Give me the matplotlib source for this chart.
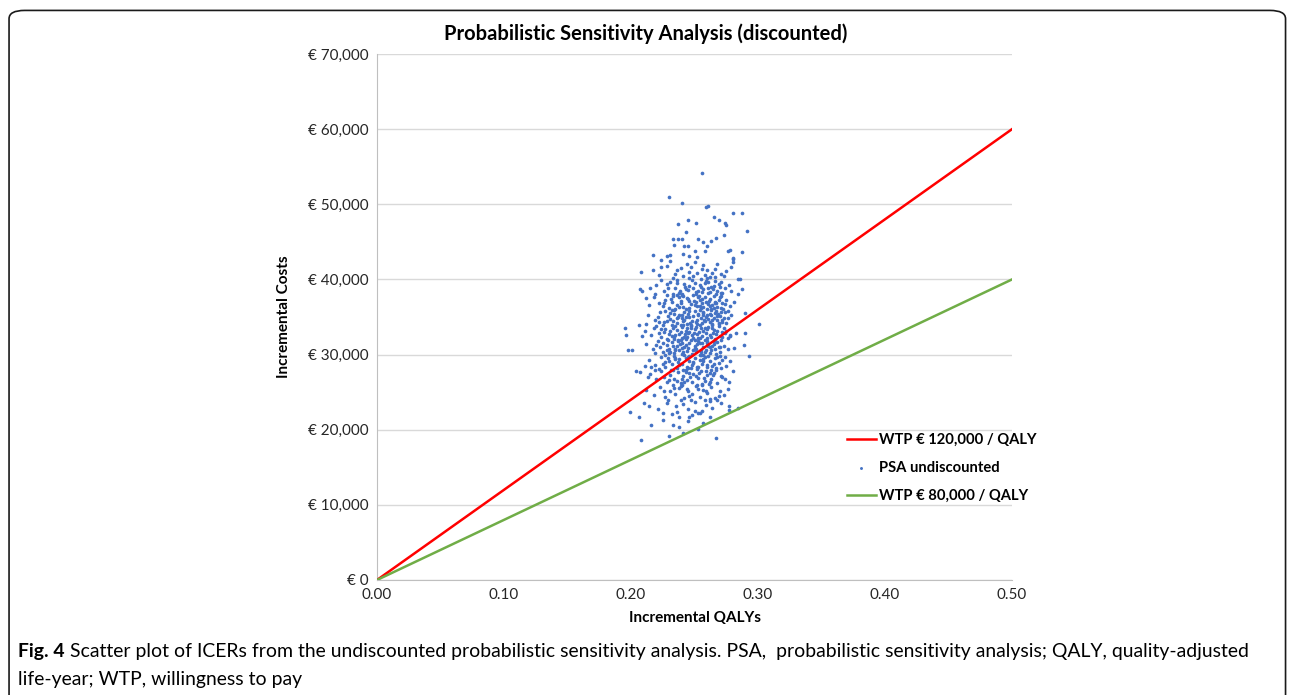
import matplotlib.pyplot as plt
from matplotlib.patches import FancyBboxPatch
from matplotlib.ticker import FuncFormatter

# WTP threshold lines (QALY, cost)
wtp_qaly = [0.0, 0.5]
wtp120_cost = [0, 60000]
wtp80_cost = [0, 40000]

# PSA points (QALY, cost)
psa = [
    # outliers
    (0.256, 54200), (0.230, 51000), (0.240, 50200), (0.259, 49600), (0.261, 49800),
    (0.280, 48900), (0.287, 48800), (0.291, 46400), (0.265, 48300), (0.269, 47900),
    (0.274, 47500), (0.275, 47200), (0.237, 47400), (0.245, 47900), (0.251, 47500),
    (0.243, 46300), (0.233, 45400), (0.237, 45400), (0.240, 45400), (0.234, 44600),
    (0.253, 45400), (0.257, 45000), (0.263, 45100), (0.267, 45500), (0.273, 45900),
    (0.242, 44500), (0.245, 44500), (0.250, 43800), (0.260, 44500), (0.258, 43800),
    (0.217, 43300), (0.228, 43100), (0.231, 43200), (0.241, 43400), (0.246, 43100),
    (0.252, 43000), (0.276, 43800), (0.278, 43900), (0.287, 43700), (0.224, 42600),
    (0.280, 42800), (0.280, 42300), (0.208, 41000), (0.224, 41600),
    (0.195, 33500), (0.196, 32600), (0.198, 30600), (0.201, 30600), (0.206, 33900),
    (0.212, 34100), (0.209, 32500), (0.204, 27800), (0.207, 27700), (0.211, 28500),
    (0.213, 27000), (0.207, 38700), (0.209, 38500), (0.212, 37500), (0.214, 36600),
    (0.219, 38100), (0.290, 35500), (0.301, 34100), (0.283, 32900), (0.290, 32900),
    (0.289, 31300), (0.293, 29800), (0.281, 30900), (0.278, 32500), (0.280, 27800),
    (0.284, 40100), (0.286, 40000), (0.287, 38700), (0.284, 38100), (0.280, 42700),
    (0.208, 18600), (0.267, 18900), (0.233, 20600), (0.216, 20600), (0.248, 22000),
    (0.246, 21700), (0.254, 22200), (0.262, 21700), (0.206, 21700), (0.199, 22400),
    (0.225, 22200), (0.277, 22600), (0.277, 23200), (0.284, 22900), (0.268, 24000),
    (0.210, 23600),
    # 40-42k
    (0.228, 41800), (0.236, 41200), (0.241, 40500), (0.247, 41600), (0.252, 40900),
    (0.257, 41900), (0.262, 40300), (0.266, 41400), (0.271, 40700), (0.275, 41100),
    (0.233, 40200), (0.244, 42000), (0.255, 40100), (0.260, 41300), (0.268, 42100),
    (0.222, 40600), (0.239, 41500), (0.250, 42300), (0.273, 40400), (0.258, 40600),
    (0.246, 40200), (0.231, 42400), (0.264, 40900), (0.279, 41600), (0.217, 41300),
    # 38-40k
    (0.220, 39200), (0.226, 38400), (0.231, 39700), (0.235, 38900), (0.238, 38200),
    (0.242, 39400), (0.245, 38600), (0.248, 39900), (0.251, 38100), (0.254, 39300),
    (0.257, 38700), (0.259, 39800), (0.262, 38300), (0.265, 39100), (0.268, 38500),
    (0.271, 39600), (0.274, 38900), (0.277, 39300), (0.224, 39900), (0.229, 38800),
    (0.240, 38000), (0.246, 39100), (0.253, 38500), (0.258, 39500), (0.263, 39000),
    (0.267, 38000), (0.272, 38200), (0.236, 39500), (0.249, 38800), (0.256, 38300),
    (0.261, 39600), (0.270, 39000), (0.215, 38900), (0.233, 38100), (0.279, 38400),
    # 36-38k
    (0.218, 37600), (0.222, 36800), (0.227, 37300), (0.230, 36200), (0.233, 37800),
    (0.236, 36600), (0.239, 37100), (0.241, 36300), (0.244, 37500), (0.247, 36700),
    (0.249, 37900), (0.252, 36400), (0.254, 37200), (0.256, 36900), (0.258, 37700),
    (0.260, 36100), (0.262, 37400), (0.264, 36600), (0.266, 37000), (0.268, 36300),
    (0.270, 37600), (0.272, 36800), (0.275, 37200), (0.278, 36500), (0.225, 36400),
    (0.232, 37000), (0.238, 37600), (0.243, 36100), (0.246, 37100), (0.250, 36600),
    (0.253, 37600), (0.257, 36300), (0.259, 37000), (0.261, 36700), (0.263, 36000),
    (0.265, 37800), (0.267, 36900), (0.269, 37300), (0.271, 36200), (0.274, 36700),
    (0.228, 37900), (0.235, 36000), (0.240, 37900), (0.255, 36200), (0.281, 37000),
    # 34-36k
    (0.213, 35200), (0.219, 34600), (0.223, 35700), (0.226, 34300), (0.229, 35100),
    (0.231, 34700), (0.234, 35900), (0.236, 34200), (0.238, 35300), (0.240, 34800),
    (0.242, 35600), (0.244, 34100), (0.246, 35000), (0.248, 34500), (0.250, 35800),
    (0.251, 34300), (0.253, 35400), (0.255, 34900), (0.257, 35700), (0.258, 34400),
    (0.260, 35200), (0.261, 34700), (0.263, 35900), (0.264, 34100), (0.266, 35500),
    (0.268, 34600), (0.270, 35100), (0.272, 34300), (0.274, 35700), (0.276, 34800),
    (0.279, 35300), (0.221, 35000), (0.227, 35800), (0.233, 34500), (0.237, 35000),
    (0.241, 34400), (0.245, 35400), (0.247, 34000), (0.249, 35100), (0.252, 34600),
    (0.254, 35900), (0.256, 34200), (0.259, 35000), (0.262, 34300), (0.265, 34800),
    (0.267, 35800), (0.269, 34200), (0.271, 35600), (0.273, 34900), (0.225, 34000),
    (0.231, 35500), (0.239, 34000), (0.243, 35000), (0.257, 35300), (0.263, 35300),
    # 32-34k
    (0.211, 33200), (0.216, 32600), (0.220, 33800), (0.224, 32300), (0.227, 33400),
    (0.230, 32800), (0.232, 33900), (0.234, 32100), (0.236, 33300), (0.238, 32700),
    (0.240, 33700), (0.242, 32400), (0.243, 33100), (0.245, 32900), (0.247, 33600),
    (0.249, 32200), (0.250, 33400), (0.252, 32800), (0.254, 33900), (0.256, 32500),
    (0.257, 33200), (0.259, 32900), (0.261, 33700), (0.263, 32300), (0.265, 33300),
    (0.267, 32700), (0.269, 33800), (0.272, 32400), (0.275, 33100), (0.278, 32600),
    (0.222, 32900), (0.228, 32100), (0.233, 33500), (0.237, 32000), (0.239, 33000),
    (0.241, 33900), (0.244, 32300), (0.246, 33000), (0.248, 32600), (0.251, 33700),
    (0.253, 32200), (0.255, 33500), (0.258, 32000), (0.260, 33400), (0.262, 32600),
    (0.264, 33900), (0.266, 32100), (0.268, 33100), (0.270, 32500), (0.273, 33600),
    (0.218, 33500), (0.226, 33000), (0.235, 32600), (0.250, 32000), (0.276, 32200),
    # 30-32k
    (0.212, 31400), (0.217, 30700), (0.221, 31800), (0.225, 30300), (0.228, 31300),
    (0.230, 30800), (0.232, 31700), (0.234, 30200), (0.236, 31100), (0.238, 30600),
    (0.239, 31900), (0.241, 30400), (0.243, 31300), (0.245, 30900), (0.246, 31600),
    (0.248, 30100), (0.250, 31200), (0.251, 30700), (0.253, 31800), (0.255, 30300),
    (0.257, 31000), (0.259, 30600), (0.260, 31500), (0.262, 30200), (0.264, 31100),
    (0.266, 30800), (0.268, 31700), (0.270, 30400), (0.273, 31200), (0.276, 30700),
    (0.223, 31000), (0.227, 30000), (0.231, 30300), (0.233, 31200), (0.235, 30700),
    (0.237, 31800), (0.240, 30100), (0.242, 31000), (0.244, 30500), (0.247, 31900),
    (0.249, 30600), (0.252, 31400), (0.254, 30000), (0.256, 31600), (0.258, 30300),
    (0.261, 31200), (0.263, 30600), (0.265, 31800), (0.267, 30100), (0.269, 31000),
    (0.219, 30200), (0.229, 31900), (0.240, 31500), (0.257, 30000), (0.271, 31900),
    # 28-30k
    (0.214, 29300), (0.219, 28600), (0.224, 29700), (0.227, 28300), (0.230, 29100),
    (0.232, 28700), (0.234, 29800), (0.236, 28200), (0.238, 29400), (0.240, 28800),
    (0.242, 29900), (0.244, 28400), (0.246, 29200), (0.248, 28600), (0.250, 29600),
    (0.252, 28100), (0.254, 29300), (0.256, 28800), (0.258, 29700), (0.260, 28300),
    (0.262, 29100), (0.264, 28500), (0.266, 29500), (0.269, 28900), (0.272, 29300),
    (0.275, 28500), (0.222, 28100), (0.229, 29500), (0.233, 28000), (0.237, 29000),
    (0.241, 28000), (0.245, 29700), (0.249, 29000), (0.253, 28400), (0.257, 29100),
    (0.261, 29800), (0.263, 28000), (0.267, 28200), (0.270, 29800), (0.278, 29200),
    (0.216, 28300), (0.235, 29400), (0.247, 28200), (0.255, 29900), (0.243, 29500),
    # 26-28k
    (0.215, 27400), (0.220, 26700), (0.224, 27800), (0.228, 26400), (0.231, 27300),
    (0.234, 26800), (0.237, 27700), (0.239, 26200), (0.241, 27200), (0.244, 26600),
    (0.246, 27600), (0.248, 26300), (0.251, 27100), (0.253, 26900), (0.255, 27800),
    (0.258, 26500), (0.260, 27300), (0.263, 26800), (0.265, 27600), (0.268, 26200),
    (0.271, 27100), (0.274, 26700), (0.226, 27000), (0.233, 26000), (0.236, 26500),
    (0.243, 27900), (0.249, 27400), (0.256, 26100), (0.262, 26300), (0.267, 27900),
    (0.219, 27900), (0.240, 26800), (0.252, 26000), (0.259, 27800), (0.277, 26300),
    # 24-26k
    (0.212, 25300), (0.218, 24600), (0.223, 25700), (0.227, 24300), (0.231, 25200),
    (0.235, 24800), (0.238, 25600), (0.242, 24200), (0.245, 25100), (0.248, 24700),
    (0.251, 25800), (0.254, 24400), (0.257, 25300), (0.260, 24900), (0.263, 25700),
    (0.266, 24200), (0.270, 25100), (0.273, 24600), (0.229, 24000), (0.240, 25900),
    (0.247, 24000), (0.256, 25900), (0.262, 24100), (0.234, 25500), (0.276, 25400),
    # 19-24k
    (0.214, 23100), (0.221, 22700), (0.228, 23600), (0.236, 22300), (0.241, 23400),
    (0.245, 22800), (0.250, 23700), (0.256, 22500), (0.259, 23300), (0.264, 22900),
    (0.271, 23500), (0.232, 22100), (0.253, 22200), (0.239, 23900), (0.262, 23800),
    (0.225, 21300), (0.238, 20300), (0.245, 21100), (0.257, 20900), (0.241, 19500),
    (0.230, 19200), (0.253, 20100),
    # dense centre
    (0.2345, 40700), (0.2425, 39050), (0.2485, 40450), (0.2535, 37850), (0.2595, 40150),
    (0.2645, 38700), (0.2695, 39350), (0.2385, 38450), (0.2445, 37350), (0.2505, 39550),
    (0.2555, 38950), (0.2615, 37150), (0.2665, 39750), (0.2315, 37450), (0.2375, 36350),
    (0.2435, 38750), (0.2495, 37150), (0.2545, 36450), (0.2605, 38250), (0.2655, 36250),
    (0.2705, 38250), (0.2335, 35350), (0.2395, 36850), (0.2455, 35750), (0.2515, 36950),
    (0.2565, 35550), (0.2625, 36450), (0.2675, 35150), (0.2725, 36050), (0.2285, 34450),
    (0.2345, 33750), (0.2405, 35250), (0.2465, 34250), (0.2525, 35250), (0.2575, 34650),
    (0.2635, 34550), (0.2685, 35350), (0.2745, 34150), (0.2305, 33150), (0.2365, 34850),
    (0.2425, 32750), (0.2475, 33850), (0.2535, 33050), (0.2585, 33550), (0.2645, 32850),
    (0.2695, 34050), (0.2255, 31550), (0.2325, 32450), (0.2385, 31350), (0.2435, 32050),
    (0.2495, 32850), (0.2545, 31550), (0.2595, 32250), (0.2655, 31450), (0.2715, 32950),
    (0.2285, 30550), (0.2345, 29550), (0.2405, 30850), (0.2455, 29850), (0.2515, 30350),
    (0.2565, 29450), (0.2625, 30950), (0.2675, 29650), (0.2375, 28550), (0.2435, 27650),
    (0.2485, 28850), (0.2535, 27550), (0.2595, 28650), (0.2645, 27250), (0.2315, 27950),
    (0.2265, 29050), (0.2465, 26950), (0.2575, 26850), (0.2705, 28150), (0.2395, 25750),
    (0.2525, 25450), (0.2615, 26050), (0.2455, 24450), (0.2355, 23150), (0.2585, 23950),
    (0.2360, 39950), (0.2460, 40950), (0.2560, 41450), (0.2660, 40350), (0.2280, 39450),
    (0.2410, 37750), (0.2510, 38350), (0.2610, 38850), (0.2710, 37850), (0.2260, 36850),
    (0.2360, 37950), (0.2460, 36250), (0.2560, 37350), (0.2660, 36850), (0.2760, 35850),
    (0.2220, 34350), (0.2320, 35950), (0.2420, 34550), (0.2520, 34050), (0.2620, 35450),
    (0.2720, 34650), (0.2240, 33350), (0.2340, 32350), (0.2440, 33550), (0.2540, 32250),
    (0.2640, 33550), (0.2740, 32850), (0.2200, 31250), (0.2300, 30150), (0.2400, 32150),
    (0.2500, 30850), (0.2600, 31850), (0.2700, 30950), (0.2250, 28750), (0.2350, 30650),
    (0.2450, 28150), (0.2550, 30550), (0.2650, 28750), (0.2740, 29650), (0.2300, 26650),
    (0.2420, 26350), (0.2520, 28350), (0.2620, 27550), (0.2720, 26950), (0.2260, 25150),
    (0.2440, 25350), (0.2590, 25150), (0.2690, 24450), (0.2500, 22450), (0.2380, 21750),
]
psa_qaly = [p[0] for p in psa]
psa_cost = [p[1] for p in psa]

plt.rcParams['font.family'] = ['Lato', 'DejaVu Sans']

fig = plt.figure(figsize=(12.92, 6.95), dpi=100)
ax = fig.add_axes([0.2918, 0.1655, 0.4915, 0.7568])

ax.plot(wtp_qaly, wtp120_cost, color='#ff0000', lw=1.8, label='WTP € 120,000 / QALY', zorder=3)
ax.scatter(psa_qaly, psa_cost, s=7, color='#4472c4', linewidths=0, label='PSA undiscounted', zorder=2)
ax.plot(wtp_qaly, wtp80_cost, color='#70ad47', lw=1.8, label='WTP € 80,000 / QALY', zorder=3)

ax.set_xlim(0, 0.5)
ax.set_ylim(0, 70000)
ax.set_xticks([0, 0.1, 0.2, 0.3, 0.4, 0.5])
ax.set_yticks(range(0, 70001, 10000))
ax.xaxis.set_major_formatter(FuncFormatter(lambda v, p: f"{v:.2f}"))
ax.yaxis.set_major_formatter(FuncFormatter(lambda v, p: f"€ {int(v):,}"))
ax.tick_params(axis='both', length=0, labelsize=11, colors='#262626', pad=6)
ax.grid(axis='y', color='#d9d9d9', lw=1)
ax.set_axisbelow(True)
for s in ['top', 'right']:
    ax.spines[s].set_visible(False)
for s in ['left', 'bottom']:
    ax.spines[s].set_color('#bfbfbf')

ax.set_xlabel('Incremental QALYs', fontsize=11, fontweight='bold', labelpad=6)
ax.set_ylabel('Incremental Costs', fontsize=11, fontweight='bold', labelpad=12)
fig.text(0.5, 0.952, 'Probabilistic Sensitivity Analysis (discounted)', ha='center', va='center',
         fontsize=14.5, fontweight='bold')

leg = ax.legend(loc='center left', bbox_to_anchor=(0.645, 0.327), bbox_transform=fig.transFigure,
                frameon=False, fontsize=10.6, handlelength=2.0, handletextpad=0.2, labelspacing=0.95,
                markerscale=0.8)
for t in leg.get_texts():
    t.set_fontweight('bold')

frame = FancyBboxPatch((0.007, -0.05), 0.988, 1.035, boxstyle='round,pad=0,rounding_size=0.012',
                       transform=fig.transFigure, fill=False, edgecolor='#1a1a1a', lw=1.2)
fig.patches.append(frame)

# caption: bold "Fig. 4" followed by plain text on the same line
fig_lbl = fig.text(0.014, 0.062, 'Fig. 4', fontsize=13.95, fontweight='bold', va='center', ha='left')
fig.canvas.draw()
bb = fig_lbl.get_window_extent().transformed(fig.transFigure.inverted())
fig.text(bb.x1 + 0.004, 0.062,
         'Scatter plot of ICERs from the undiscounted probabilistic sensitivity analysis. PSA,  probabilistic sensitivity analysis; QALY, quality-adjusted',
         fontsize=13.95, va='center', ha='left')
fig.text(0.014, 0.022, 'life-year; WTP, willingness to pay', fontsize=13.95, va='center', ha='left')

fig.savefig('out.png', dpi=100)
